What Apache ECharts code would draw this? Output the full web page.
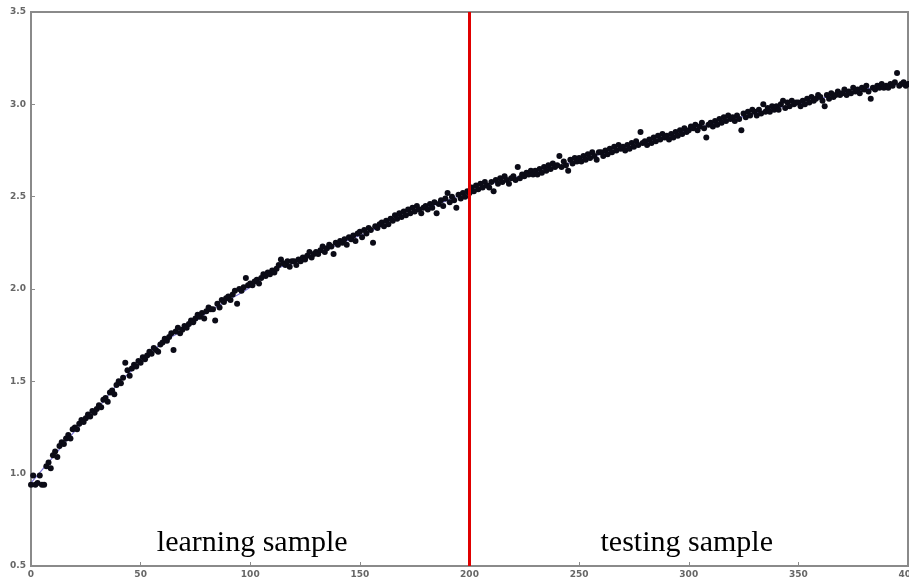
<!DOCTYPE html>
<html>
<head>
<meta charset="utf-8">
<script src="https://cdn.jsdelivr.net/npm/echarts@6/dist/echarts.min.js"></script>
<style>
  html, body { margin: 0; padding: 0; background: #fff; }
  #chart { width: 909px; height: 582px; }
</style>
</head>
<body>
<div id="chart"></div>
<script>
// Observations indexed by step: learningValues[i] is step i (0..199),
// testingValues[i] is step 200 + i (200..400).
const learningValues = [
  0.94, 0.99, 0.94, 0.95, 0.99, 0.94, 0.94, 1.04, 1.06, 1.03,
  1.10, 1.12, 1.09, 1.15, 1.17, 1.16, 1.19, 1.21, 1.19, 1.24,
  1.25, 1.24, 1.27, 1.29, 1.28, 1.30, 1.32, 1.31, 1.34, 1.33,
  1.35, 1.37, 1.36, 1.40, 1.41, 1.39, 1.44, 1.45, 1.43, 1.48,
  1.50, 1.49, 1.52, 1.60, 1.56, 1.53, 1.57, 1.59, 1.58, 1.61,
  1.60, 1.63, 1.62, 1.64, 1.66, 1.65, 1.68, 1.67, 1.66, 1.70,
  1.71, 1.73, 1.72, 1.74, 1.76, 1.67, 1.77, 1.79, 1.76, 1.78,
  1.80, 1.79, 1.81, 1.83, 1.82, 1.84, 1.86, 1.85, 1.87, 1.84,
  1.88, 1.90, 1.89, 1.89, 1.83, 1.92, 1.90, 1.94, 1.93, 1.95,
  1.96, 1.94, 1.97, 1.99, 1.92, 2.00, 1.99, 2.01, 2.06, 2.02,
  2.03, 2.02, 2.04, 2.05, 2.03, 2.06, 2.08, 2.07, 2.09, 2.08,
  2.10, 2.09, 2.11, 2.13, 2.16, 2.14, 2.13, 2.15, 2.12, 2.15,
  2.15, 2.13, 2.16, 2.15, 2.17, 2.16, 2.18, 2.20, 2.17, 2.19,
  2.20, 2.19, 2.21, 2.23, 2.20, 2.22, 2.24, 2.23, 2.19, 2.25,
  2.24, 2.26, 2.25, 2.27, 2.24, 2.28, 2.27, 2.29, 2.26, 2.30,
  2.31, 2.28, 2.32, 2.30, 2.33, 2.32, 2.25, 2.34, 2.33, 2.35,
  2.36, 2.34, 2.37, 2.35, 2.38, 2.37, 2.40, 2.38, 2.41, 2.39,
  2.42, 2.40, 2.43, 2.41, 2.44, 2.42, 2.45, 2.43, 2.41, 2.44,
  2.45, 2.43, 2.46, 2.44, 2.47, 2.41, 2.46, 2.48, 2.45, 2.49,
  2.52, 2.47, 2.50, 2.48, 2.44, 2.51, 2.49, 2.52, 2.50, 2.53
];
const testingValues = [
  2.52, 2.55, 2.53, 2.56, 2.54, 2.57, 2.55, 2.58, 2.56, 2.55,
  2.58, 2.53, 2.59, 2.57, 2.60, 2.58, 2.61, 2.59, 2.57, 2.60,
  2.61, 2.59, 2.66, 2.60, 2.62, 2.61, 2.63, 2.62, 2.64, 2.62,
  2.64, 2.62, 2.65, 2.63, 2.66, 2.64, 2.67, 2.65, 2.68, 2.66,
  2.67, 2.72, 2.66, 2.69, 2.67, 2.64, 2.70, 2.68, 2.71, 2.69,
  2.71, 2.69, 2.72, 2.70, 2.73, 2.71, 2.74, 2.72, 2.70, 2.74,
  2.74, 2.72, 2.75, 2.73, 2.76, 2.74, 2.77, 2.75, 2.78, 2.76,
  2.77, 2.75, 2.78, 2.76, 2.79, 2.77, 2.80, 2.78, 2.85, 2.79,
  2.80, 2.78, 2.81, 2.79, 2.82, 2.80, 2.83, 2.81, 2.84, 2.82,
  2.83, 2.81, 2.84, 2.82, 2.85, 2.83, 2.86, 2.84, 2.87, 2.85,
  2.86, 2.88, 2.87, 2.89, 2.86, 2.88, 2.90, 2.87, 2.82, 2.89,
  2.90, 2.88, 2.91, 2.89, 2.92, 2.90, 2.93, 2.91, 2.94, 2.92,
  2.93, 2.91, 2.94, 2.92, 2.86, 2.95, 2.93, 2.96, 2.94, 2.97,
  2.96, 2.94, 2.97, 2.95, 3.00, 2.96, 2.98, 2.96, 2.99, 2.97,
  2.99, 2.97, 3.00, 3.02, 2.98, 3.01, 2.99, 3.02, 3.00, 3.01,
  3.01, 2.99, 3.02, 3.00, 3.03, 3.01, 3.04, 3.02, 3.03, 3.05,
  3.04, 3.02, 2.99, 3.05, 3.03, 3.06, 3.04, 3.05, 3.07, 3.05,
  3.06, 3.08, 3.05, 3.07, 3.06, 3.09, 3.07, 3.08, 3.06, 3.09,
  3.08, 3.10, 3.07, 3.03, 3.09, 3.08, 3.10, 3.09, 3.11, 3.09,
  3.10, 3.09, 3.11, 3.10, 3.12, 3.17, 3.10, 3.11, 3.12, 3.10,
  3.11
];
const testingStart = 200;

// Underlying trend curve, sampled every 10 steps
const trendSteps = [0, 10, 20, 30, 40, 50, 60, 70, 80, 90, 100, 110, 120, 130, 140, 150,
  160, 170, 180, 190, 200, 210, 220, 230, 240, 250, 260, 270, 280, 290, 300, 310, 320,
  330, 340, 350, 360, 370, 380, 390, 400];
const trendValues = [0.95, 1.09, 1.23, 1.35, 1.49, 1.60, 1.71, 1.78, 1.87, 1.94, 2.01,
  2.10, 2.14, 2.19, 2.24, 2.29, 2.34, 2.40, 2.44, 2.48, 2.53, 2.57, 2.60, 2.63, 2.66,
  2.70, 2.73, 2.76, 2.79, 2.82, 2.86, 2.89, 2.92, 2.95, 2.98, 3.00, 3.03, 3.06, 3.08,
  3.10, 3.11];

const xTicks = [0, 50, 100, 150, 200, 250, 300, 350, 400];
const yTicks = [0.5, 1.0, 1.5, 2.0, 2.5, 3.0, 3.5];
const splitStep = 200;
const sampleLabels = ['learning sample', 'testing sample'];

const learningPoints = learningValues.map((v, i) => [i, v]);
const testingPoints = testingValues.map((v, i) => [testingStart + i, v]);
const trendPoints = trendSteps.map((s, i) => [s, trendValues[i]]);

const chart = echarts.init(document.getElementById('chart'), null, { renderer: 'canvas' });

const axisCommon = {
  axisLine: { show: true, lineStyle: { color: '#8a8a8a', width: 2 } },
  axisTick: { show: true, inside: true, length: 4, lineStyle: { color: '#8a8a8a' } },
  splitLine: { show: false },
  axisLabel: { color: '#666', fontSize: 9, fontFamily: 'DejaVu Sans', fontWeight: 'bold' }
};

const dotStyle = { color: '#0b0b16', opacity: 1 };

chart.setOption({
  animation: false,
  backgroundColor: '#fff',
  grid: {
    left: 31, right: 1, top: 12, bottom: 16, containLabel: false, outerBoundsMode: 'none',
    show: true, borderColor: '#8a8a8a', borderWidth: 2
  },
  xAxis: Object.assign({}, axisCommon, {
    type: 'value', min: xTicks[0], max: xTicks[xTicks.length - 1], interval: 50,
    axisLabel: Object.assign({}, axisCommon.axisLabel, { margin: 4 })
  }),
  yAxis: Object.assign({}, axisCommon, {
    type: 'value', min: yTicks[0], max: yTicks[yTicks.length - 1], interval: 0.5,
    axisLabel: Object.assign({}, axisCommon.axisLabel, {
      margin: 5, formatter: v => v.toFixed(1)
    })
  }),
  series: [
    {
      name: 'trend', type: 'line', data: trendPoints, smooth: true, symbol: 'none',
      lineStyle: { color: '#7b74d6', width: 1.2 }, z: 1, silent: true
    },
    {
      name: 'learning', type: 'scatter', data: learningPoints, symbolSize: 6,
      itemStyle: dotStyle, z: 3,
      markLine: {
        silent: true, symbol: 'none', label: { show: false },
        lineStyle: { color: '#e00000', width: 3, type: 'solid' },
        data: [{ xAxis: splitStep }]
      }
    },
    {
      name: 'testing', type: 'scatter', data: testingPoints, symbolSize: 6,
      itemStyle: dotStyle, z: 3
    }
  ]
});

// Region captions, centred in each half of the plot near the bottom
function placeCaptions() {
  const left = chart.convertToPixel({ gridIndex: 0 }, [xTicks[0], yTicks[0]]);
  const mid = chart.convertToPixel({ gridIndex: 0 }, [splitStep, yTicks[0]]);
  const right = chart.convertToPixel({ gridIndex: 0 }, [xTicks[xTicks.length - 1], yTicks[0]]);
  const y = left[1] - 23;
  const textStyle = { fill: '#000', fontSize: 30, fontFamily: 'Liberation Serif', align: 'center', verticalAlign: 'middle' };
  chart.setOption({
    graphic: [
      { type: 'text', x: (left[0] + mid[0]) / 2 + 2, y: y, style: Object.assign({ text: sampleLabels[0] }, textStyle), z: 10 },
      { type: 'text', x: (mid[0] + right[0]) / 2 - 2, y: y, style: Object.assign({ text: sampleLabels[1] }, textStyle), z: 10 }
    ]
  });
}
placeCaptions();
</script>
</body>
</html>
